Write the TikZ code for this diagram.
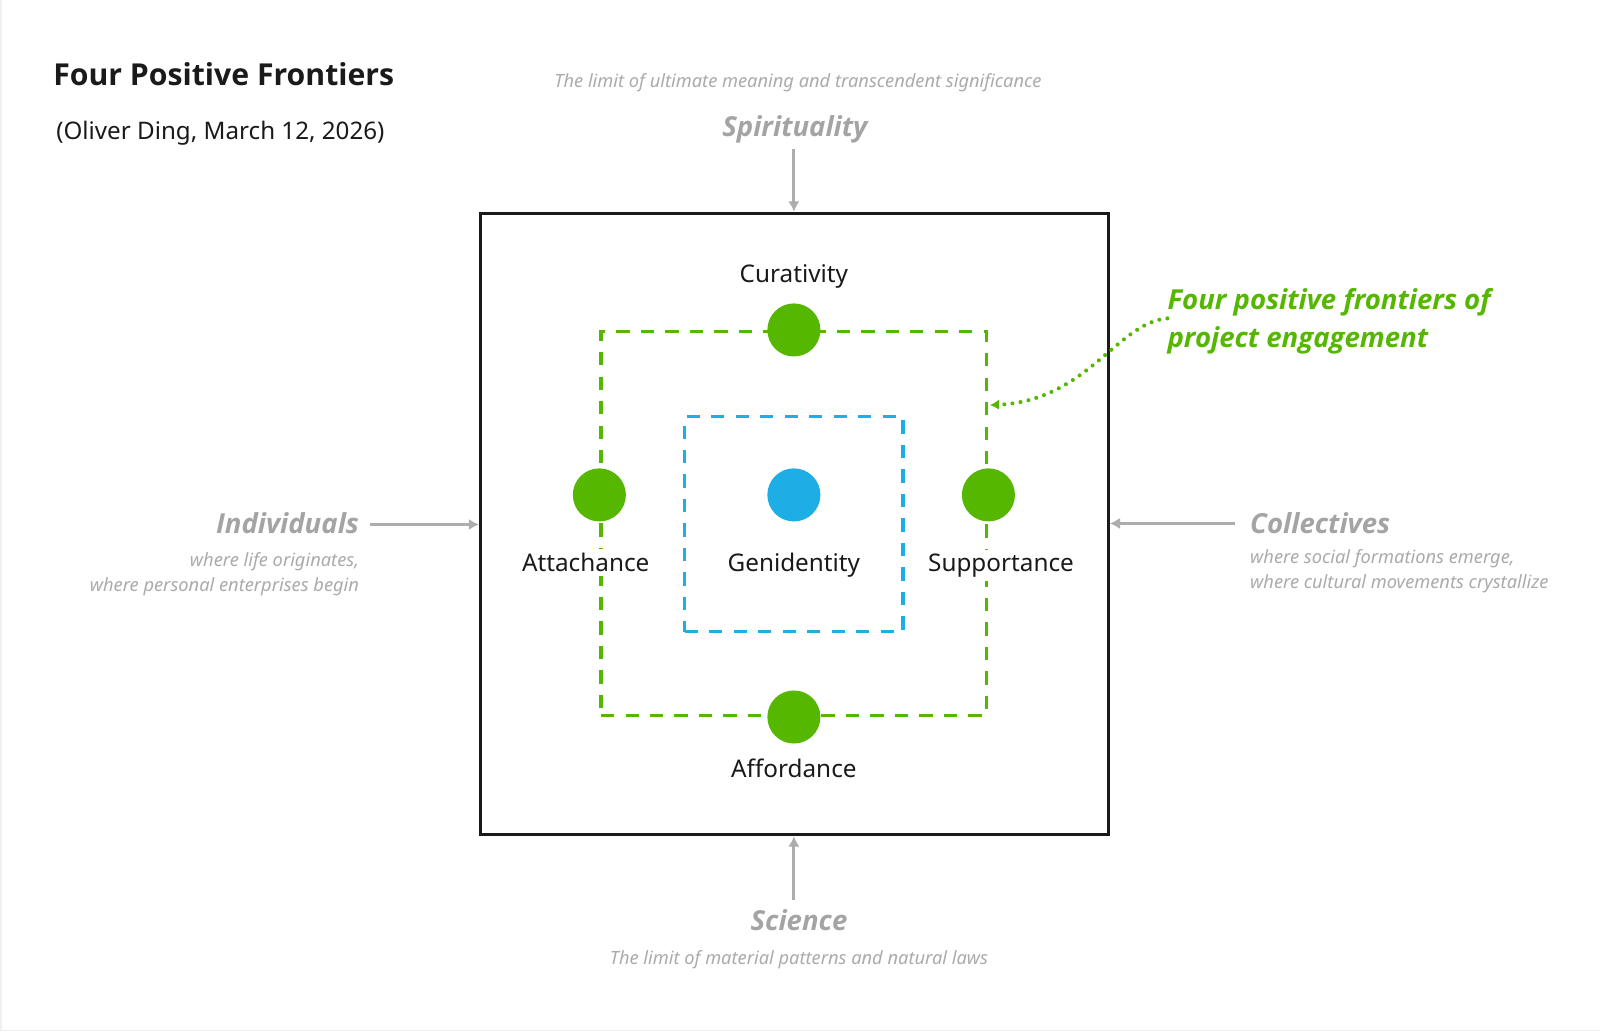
\documentclass[tikz,border=0pt]{standalone}
\usepackage{fontspec}
\setmainfont{Noto Sans}
\newfontfamily\osans{Open Sans}
\usetikzlibrary{arrows.meta}
\definecolor{fgreen}{HTML}{55B700}
\definecolor{fblue}{HTML}{1CAEE4}
\definecolor{fgray}{HTML}{ADADAD}
\definecolor{tgray}{HTML}{A4A4A4}
\definecolor{dgray}{HTML}{ABABAB}
\definecolor{ink}{HTML}{1A1A1A}
\begin{document}
\begin{tikzpicture}[x=1pt,y=-1pt,
  lbl/.style={font=\fontsize{23.8}{28}\selectfont, text=ink, fill=white, inner xsep=3pt, inner ysep=4pt, anchor=base},
  dimhead/.style={font=\osans\fontsize{27}{31}\selectfont\bfseries\itshape, text=tgray, inner sep=0pt},
  dimdesc/.style={font=\fontsize{17.9}{21}\selectfont\itshape, text=dgray, inner sep=0pt},
  grayarrow/.style={draw=fgray, line width=2.8pt, -{Latex[length=10pt,width=11pt]}},
  gdot/.style={circle, fill=fgreen, minimum size=52pt, inner sep=0pt},
  bdot/.style={circle, fill=fblue, minimum size=52pt, inner sep=0pt},
  gframe/.style={draw=fgreen, line width=3.3pt, dash pattern=on 13pt off 11pt, inner sep=0pt},
  bframe/.style={draw=fblue, line width=3.3pt, dash pattern=on 13pt off 11pt, inner sep=0pt}
]
\useasboundingbox (0,0) rectangle (1568,1011.4);
\fill[white] (0,0) rectangle (1568,1011.4);
\draw[black!6, line width=1.5pt] (1,0) -- (1,1010) -- (1568,1010);

% title
\node[font=\osans\fontsize{29.6}{34}\selectfont\bfseries, text=ink, anchor=base west, inner sep=0pt] (title) at (52,84) {Four Positive Frontiers};
\node[font=\fontsize{23.7}{28}\selectfont, text=ink, anchor=base west, inner sep=0pt] (sub) at (55,137) {(Oliver Ding, March 12, 2026)};

% outer frame
\node[draw=ink, line width=3.2pt, minimum width=615pt, minimum height=609pt, inner sep=0pt] (frame) at (778.5,513.5) {};

% dashed squares
\node[gframe, minimum width=378pt, minimum height=376pt] (gsq) at (778,513) {};
\node[bframe, minimum width=214pt, minimum height=211pt] (bsq) at (778,513.5) {};

% dots
\node[gdot] (cur) at (gsq.north) {};
\node[gdot] (att) at (gsq.west |- 0,485) {};
\node[gdot] (sup) at (gsq.east |- 0,485) {};
\node[gdot] (aff) at (gsq.south) {};
\node[bdot] (gen) at (778,485) {};

% labels
\node[lbl] (curl) at (778,277) {Curativity};
\node[lbl] (attl) at (574,560) {Attachance};
\node[lbl] (genl) at (778,560) {Genidentity};
\node[lbl] (supl) at (981,560) {Supportance};
\node[lbl] (affl) at (778,762) {Affordance};

% spirituality
\node[dimdesc, anchor=base] (spd) at (782,86) {The limit of ultimate meaning and transcendent significance};
\node[dimhead, anchor=base] (sph) at (779,134) {Spirituality};
\coordinate (spa) at (778,146);
\draw[grayarrow] (spa) -- (frame.north -| spa);

% science
\node[dimhead, anchor=base] (sch) at (783,912) {Science};
\node[dimdesc, anchor=base] (scd) at (783,945) {The limit of material patterns and natural laws};
\coordinate (sca) at (778,882);
\draw[grayarrow] (sca) -- (frame.south -| sca);

% individuals
\node[dimhead, anchor=base east] (inh) at (352,523) {Individuals};
\node[dimdesc, anchor=base east] (ind1) at (352,555) {where life originates,};
\node[dimdesc, anchor=base east] (ind2) at (352,580) {where personal enterprises begin};
\coordinate (ina) at (363,514);
\draw[grayarrow] (ina) -- (frame.west |- ina);

% collectives
\node[dimhead, anchor=base west] (coh) at (1225,523) {Collectives};
\node[dimdesc, anchor=base west] (co1) at (1225,552) {where social formations emerge,};
\node[dimdesc, anchor=base west] (co2) at (1225,577) {where cultural movements crystallize};
\coordinate (coa) at (1210,513);
\draw[grayarrow] (coa) -- (frame.east |- coa);

% annotation
\node[font=\osans\fontsize{27}{31}\selectfont\bfseries\itshape, text=fgreen, anchor=base west, inner sep=0pt] (an1) at (1144,303) {Four positive frontiers of};
\node[font=\osans\fontsize{27}{31}\selectfont\bfseries\itshape, text=fgreen, anchor=base west, inner sep=0pt] (an2) at (1144,341) {project engagement};
\coordinate (ans) at (1144,312);
\coordinate (ane) at (970,397);
\draw[fgreen, line width=4pt, line cap=round, dash pattern=on 0pt off 8pt,
  -{Latex[length=9pt,width=10pt,line cap=butt]}]
  (ans) .. controls (1095,316) and (1065,393) .. (ane);
\end{tikzpicture}
\end{document}
